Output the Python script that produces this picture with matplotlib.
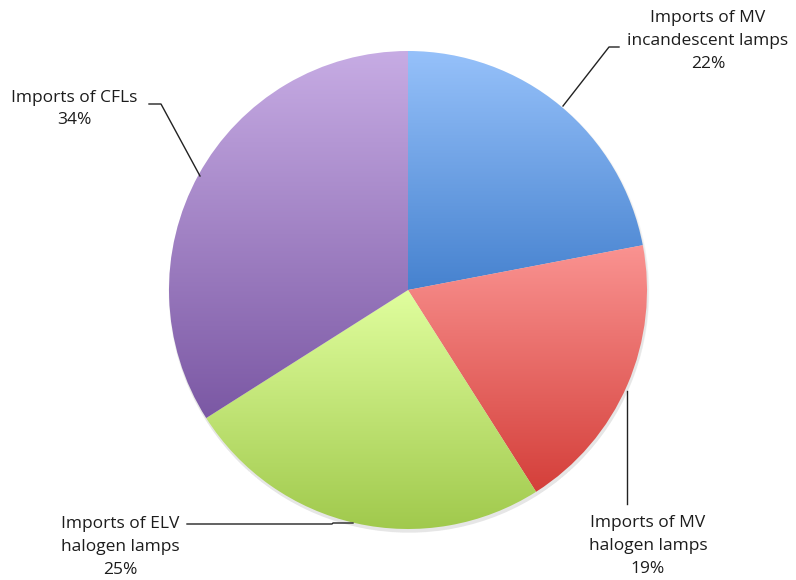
import numpy as np
import matplotlib.pyplot as plt
from matplotlib.colors import LinearSegmentedColormap

labels = ['Imports of MV\nincandescent lamps', 'Imports of MV\nhalogen lamps',
          'Imports of ELV\nhalogen lamps', 'Imports of CFLs']
shares = [22, 19, 25, 34]
top_colors = ['#96c1fa', '#fa9391', '#e0fe9e', '#c7ace4']
bottom_colors = ['#4682cf', '#d43f3a', '#a0c94c', '#7b58a4']

plt.rcParams['font.family'] = ['Open Sans', 'DejaVu Sans']

fig = plt.figure(figsize=(7.96, 5.80), dpi=100)
ax = fig.add_axes([0, 0, 1, 1])

cx, cy, r = 408, 290, 239

# faint shadow under the pie
for k in range(5):
    sh = plt.Circle((cx + 1, cy - 2 - k * 0.4), r + 1.5 - k * 0.3,
                    color='black', alpha=0.018, lw=0, zorder=0)
    ax.add_patch(sh)

wedges, _ = ax.pie(shares, startangle=90, counterclock=False,
                   center=(cx, cy), radius=r, frame=True,
                   wedgeprops=dict(linewidth=0))
ax.set_xlim(0, 796)
ax.set_ylim(0, 580)
ax.set_aspect('equal')
ax.axis('off')

# vertical gradient fill clipped to each slice
for w, c0, c1 in zip(wedges, top_colors, bottom_colors):
    w.set_facecolor('none')
    verts = w.get_path().vertices
    x0, x1 = verts[:, 0].min(), verts[:, 0].max()
    y0, y1 = verts[:, 1].min(), verts[:, 1].max()
    cmap = LinearSegmentedColormap.from_list('g', [c1, c0])
    grad = np.linspace(0, 1, 256).reshape(-1, 1)
    im = ax.imshow(grad, cmap=cmap, origin='lower', aspect='auto',
                   extent=(x0, x1, y0, y1), zorder=1, interpolation='bilinear')
    im.set_clip_path(w)

txt = dict(fontsize=12.5, color='#1c1c1c', ha='center', va='center',
           linespacing=1.58)

def H(y):
    return 580 - y

ax.text(708, H(41), f'{labels[0]}\n{shares[0]}%', **txt)
ax.plot([563, 609, 619], [H(106), H(47), H(47)], color='#222222', lw=1, zorder=3)

ax.text(648, H(546), f'{labels[1]}\n{shares[1]}%', **txt)
ax.plot([627, 627], [H(391), H(504)], color='#222222', lw=1, zorder=3)

ax.text(120, H(547), f'{labels[2]}\n{shares[2]}%', **txt)
ax.plot([187, 332, 333, 353], [H(524), H(524), H(523), H(523)],
        color='#222222', lw=1, zorder=3)

ax.text(74, H(109), f'{labels[3]}\n{shares[3]}%', **txt)
ax.plot([149, 161, 200], [H(104), H(104), H(176)], color='#222222', lw=1, zorder=3)

fig.savefig('out.png', dpi=100)
